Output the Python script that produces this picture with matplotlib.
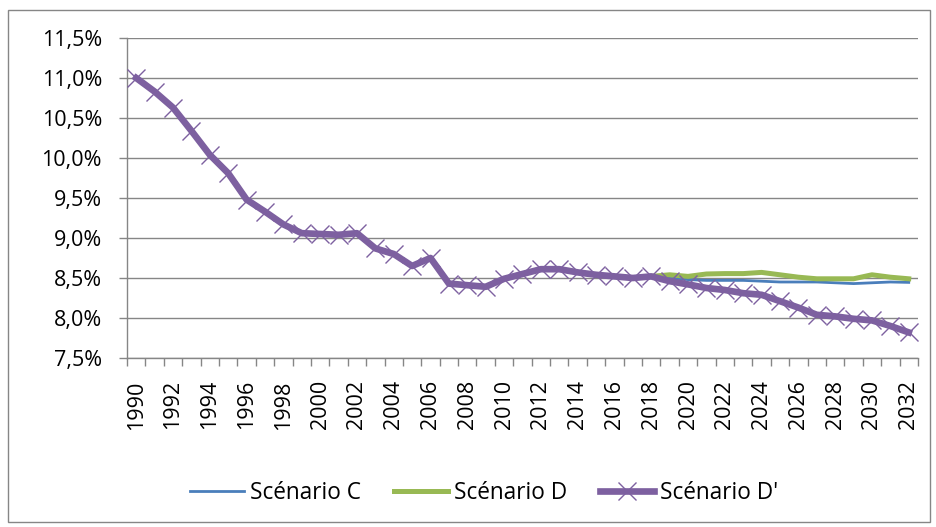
import numpy as np
import matplotlib.pyplot as plt
from matplotlib.patches import Rectangle
from matplotlib.ticker import FuncFormatter

# Data
years = list(range(1990, 2033))

# common history 1990-2018
history = [11.00, 10.83, 10.63, 10.34, 10.04, 9.81, 9.48, 9.33, 9.17, 9.06,
           9.05, 9.04, 9.06, 8.87, 8.80, 8.65, 8.75, 8.43, 8.41, 8.39,
           8.49, 8.55, 8.61, 8.61, 8.57, 8.54, 8.52, 8.50, 8.52]

# 2019-2032
future_c = [8.50, 8.48, 8.47, 8.47, 8.47, 8.46, 8.45, 8.45, 8.45, 8.44,
            8.43, 8.44, 8.45, 8.445]
future_d = [8.54, 8.52, 8.55, 8.555, 8.555, 8.57, 8.54, 8.51, 8.49, 8.49,
            8.49, 8.54, 8.51, 8.49]
future_dp = [8.46, 8.42, 8.375, 8.35, 8.31, 8.29, 8.21, 8.13, 8.04, 8.02,
             7.99, 7.97, 7.90, 7.82]

scen_c = history + future_c
scen_d = history + future_d
scen_dp = history + future_dp

labels = ['Scénario C', 'Scénario D', "Scénario D'"]
colors = ['#4A7EBB', '#98B954', '#7D60A0']

plt.rcParams['font.family'] = ['Open Sans', 'DejaVu Sans']
fsize = 15.5

fig = plt.figure(figsize=(9.36, 5.27), dpi=100)
ax = fig.add_axes([0.1357, 0.3207, 0.845, 0.6072])

x = np.arange(len(years))
ax.plot(x, scen_c, color=colors[0], lw=2.0, label=labels[0], zorder=3)
ax.plot(x, scen_d, color=colors[1], lw=3.6, label=labels[1], zorder=3)
ax.plot(x, scen_dp, color=colors[2], lw=4.8, label=labels[2], zorder=4,
        marker='x', markersize=13, markeredgewidth=1.0)

ax.set_xlim(-0.5, len(years) - 0.5)
ax.set_ylim(7.5, 11.5)
ax.set_yticks(np.arange(7.5, 11.51, 0.5))
ax.yaxis.set_major_formatter(FuncFormatter(lambda v, p: ('%.1f%%' % v).replace('.', ',')))
ax.grid(axis='y', color='#868686', lw=1.0)
ax.set_axisbelow(True)

ax.set_xticks(x[::2])
ax.set_xticklabels([str(y) for y in years[::2]], rotation=90)
ax.set_xticks(np.arange(-0.5, len(years), 1), minor=True)
ax.tick_params(axis='x', which='major', length=0, pad=16, labelsize=fsize, colors='black')
ax.tick_params(axis='x', which='minor', length=5.5, color='#868686', width=1)
ax.tick_params(axis='y', length=6, color='#868686', width=1, labelsize=fsize, pad=12)

for s in ['top', 'right']:
    ax.spines[s].set_visible(False)
for s in ['left', 'bottom']:
    ax.spines[s].set_color('#868686')
    ax.spines[s].set_linewidth(1.0)

fig.legend(loc='center', bbox_to_anchor=(0.517, 0.064), ncol=3, frameon=False,
           fontsize=16.3, handlelength=2.4, handletextpad=0.25, columnspacing=1.45)

fig.patches.append(Rectangle((8 / 936, 5 / 527), 922 / 936, 512 / 527,
                             transform=fig.transFigure, fill=False,
                             edgecolor='#868686', lw=1.0))

fig.savefig('out.png', dpi=100)
